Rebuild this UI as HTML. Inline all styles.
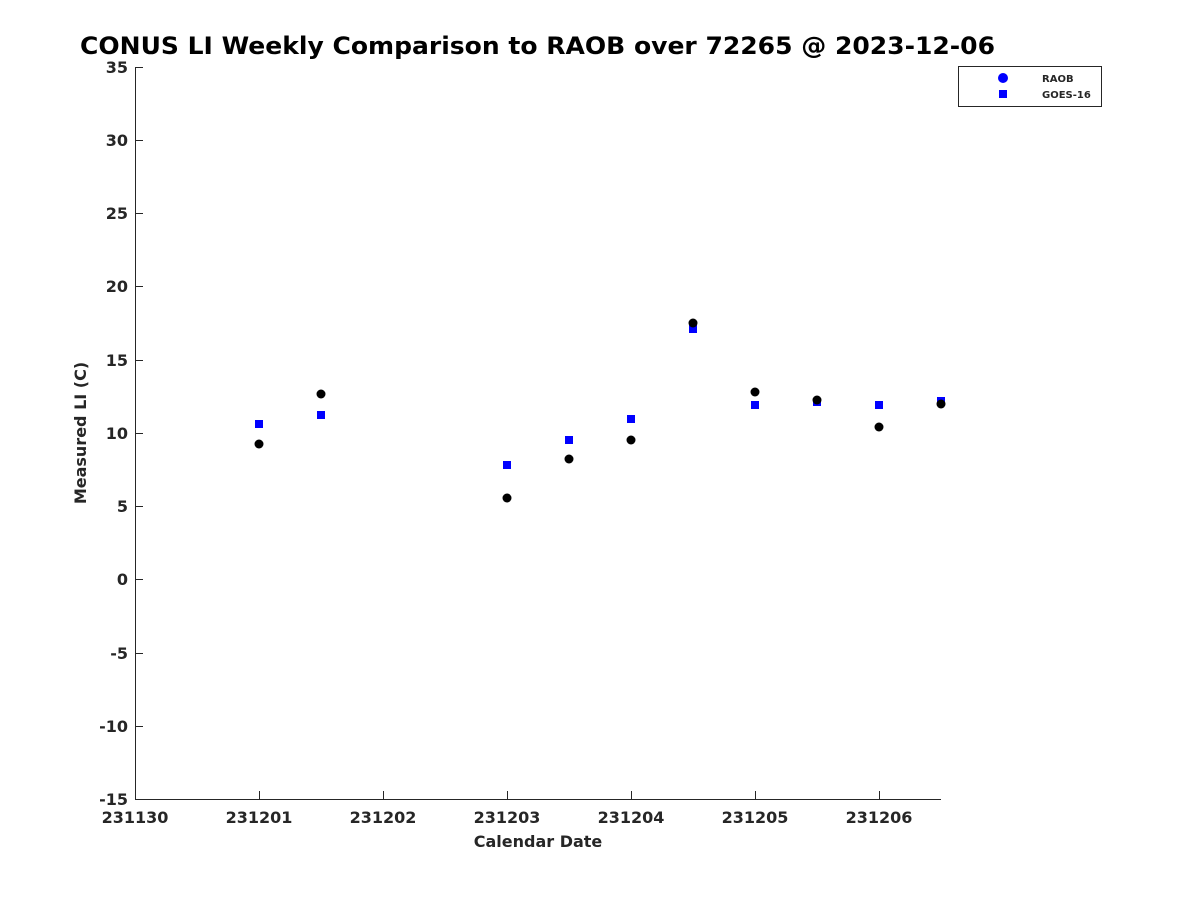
<!DOCTYPE html>
<html><head><style>body{margin:0;background:#fff}</style></head><body>
<svg width="1200" height="900" xmlns="http://www.w3.org/2000/svg" font-family="DejaVu Sans, Liberation Sans, sans-serif" font-weight="bold">
<rect width="1200" height="900" fill="#fff"/>
<text x="80" y="54" font-size="24" fill="#000" textLength="915" lengthAdjust="spacingAndGlyphs">CONUS LI Weekly Comparison to RAOB over 72265 @ 2023-12-06</text>
<g stroke="#262626" stroke-width="1" fill="none">
<line x1="135.5" y1="67" x2="135.5" y2="800"/>
<line x1="135" y1="799.5" x2="941" y2="799.5"/>
<g>
<line x1="135" y1="67.5" x2="143" y2="67.5"/><line x1="135" y1="140.5" x2="143" y2="140.5"/><line x1="135" y1="213.5" x2="143" y2="213.5"/><line x1="135" y1="286.5" x2="143" y2="286.5"/><line x1="135" y1="360.5" x2="143" y2="360.5"/><line x1="135" y1="433.5" x2="143" y2="433.5"/><line x1="135" y1="506.5" x2="143" y2="506.5"/><line x1="135" y1="579.5" x2="143" y2="579.5"/><line x1="135" y1="653.5" x2="143" y2="653.5"/><line x1="135" y1="726.5" x2="143" y2="726.5"/>
<line x1="259.5" y1="799" x2="259.5" y2="791"/><line x1="383.5" y1="799" x2="383.5" y2="791"/><line x1="507.5" y1="799" x2="507.5" y2="791"/><line x1="631.5" y1="799" x2="631.5" y2="791"/><line x1="755.5" y1="799" x2="755.5" y2="791"/><line x1="879.5" y1="799" x2="879.5" y2="791"/>
</g></g>
<g font-size="16" fill="#262626" text-anchor="end">
<text x="128" y="73">35</text><text x="128" y="146">30</text><text x="128" y="219">25</text><text x="128" y="292">20</text><text x="128" y="366">15</text><text x="128" y="439">10</text><text x="128" y="512">5</text><text x="128" y="585">0</text><text x="128" y="659">-5</text><text x="128" y="732">-10</text><text x="128" y="805">-15</text>
</g>
<g font-size="16" fill="#262626" text-anchor="middle">
<text x="135" y="823">231130</text><text x="259" y="823">231201</text><text x="383" y="823">231202</text><text x="507" y="823">231203</text><text x="631" y="823">231204</text><text x="755" y="823">231205</text><text x="879" y="823">231206</text>
<text x="538" y="847">Calendar Date</text>
<text transform="translate(86,433) rotate(-90)">Measured LI (C)</text>
</g>
<g fill="#0000ff">
<rect x="255" y="420" width="8" height="8"/><rect x="317" y="411" width="8" height="8"/><rect x="503" y="461" width="8" height="8"/><rect x="565" y="436" width="8" height="8"/><rect x="627" y="415" width="8" height="8"/><rect x="689" y="325" width="8" height="8"/><rect x="751" y="401" width="8" height="8"/><rect x="813" y="398" width="8" height="8"/><rect x="875" y="401" width="8" height="8"/><rect x="937" y="397" width="8" height="8"/>
</g>
<g fill="#000">
<circle cx="259" cy="444" r="4.5"/><circle cx="321" cy="394" r="4.5"/><circle cx="507" cy="498" r="4.5"/><circle cx="569" cy="459" r="4.5"/><circle cx="631" cy="440" r="4.5"/><circle cx="693" cy="323" r="4.5"/><circle cx="755" cy="392" r="4.5"/><circle cx="817" cy="400" r="4.5"/><circle cx="879" cy="427" r="4.5"/><circle cx="941" cy="404" r="4.5"/>
</g>
<rect x="958.5" y="66.5" width="143" height="40" fill="#fff" stroke="#262626"/>
<circle cx="1003" cy="78" r="5" fill="#0000ff"/>
<rect x="999" y="90" width="8" height="8" fill="#0000ff"/>
<g font-size="10" fill="#262626"><text x="1042" y="82">RAOB</text><text x="1042" y="98">GOES-16</text></g>
</svg>
</body></html>
